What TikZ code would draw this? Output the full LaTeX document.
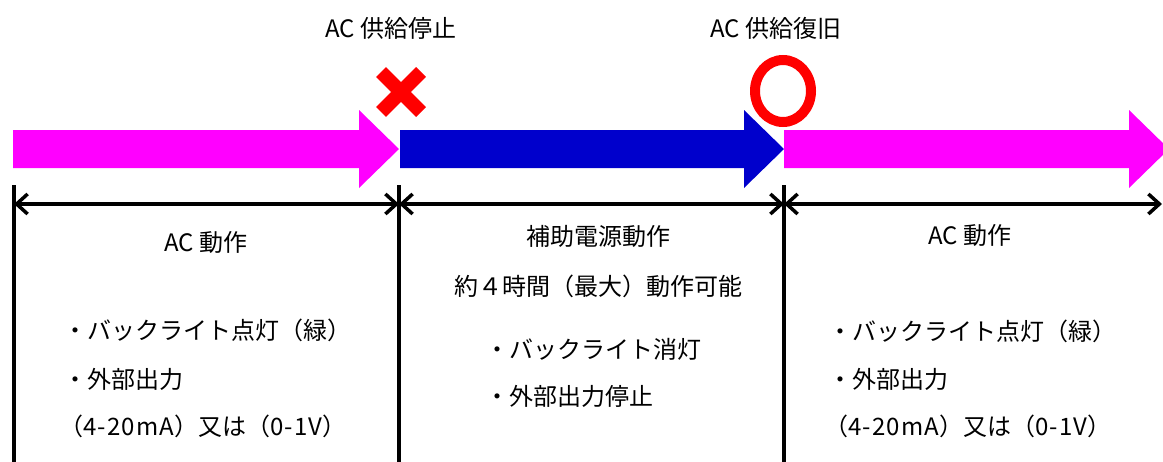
\documentclass[tikz,border=0pt]{standalone}
\usepackage{fontspec}
\setmainfont{Noto Sans CJK JP}
\newfontfamily\wideLatin[LetterSpace=5]{Noto Sans CJK JP}
\usetikzlibrary{arrows.meta}
\definecolor{acColor}{HTML}{FF00FF}
\definecolor{batColor}{HTML}{0000CC}
\definecolor{markColor}{HTML}{FF0000}

\begin{document}
\begin{tikzpicture}[x=1pt, y=-1pt,
    txt/.style={font=\fontsize{24}{24}\selectfont, inner sep=0pt, text height=20pt, text depth=3pt},
    item/.style={txt, anchor=west},
    dimline/.style={line width=3.5pt, {Straight Barb[length=11pt,width=20pt]}-{Straight Barb[length=11pt,width=20pt]}},
    tick/.style={line width=4pt}]
    \useasboundingbox (0,0) rectangle (1163,461);
    % big arrows
    \foreach \xa/\xb/\col in {13/399/acColor, 400/784/batColor, 784/1169/acColor}
        \fill[\col] (\xa,130) -- (\xb-40,130) -- (\xb-40,110) -- (\xb,149)
            -- (\xb-40,188) -- (\xb-40,168) -- (\xa,168) -- cycle;
    % marks
    \draw[markColor, line width=14pt] (381,72) -- (421,112) (381,112) -- (421,72);
    \draw[markColor, line width=10pt] (783,91) ellipse [x radius=28, y radius=31];
    % ticks and dimension lines
    \coordinate (t0) at (14,204);
    \coordinate (t1) at (399,204);
    \coordinate (t2) at (784,204);
    \coordinate (t3) at (1162,204);
    \foreach \p in {t0,t1,t2}
        \draw[tick] (\p) ++(0,-19) -- ++(0,280);
    \draw[dimline] (t0) -- (t1);
    \draw[dimline] (t1) -- (t2);
    \draw[dimline] (t2) -- (t3);
    % titles
    \node[txt] (stop) at (391,29) {AC 供給停止};
    \node[txt] (restore) at (776,29) {AC 供給復旧};
    % left
    \node[txt] (acLeft) at (206,243) {AC 動作};
    \node[item] (lightLeft) at (63,331) {・バックライト点灯（緑）};
    \node[item] (outLeft) at (63,380) {・外部出力};
    \node[item] (rangeLeft) at (59,427) {（{\wideLatin 4-20mA}）又は（{\wideLatin 0-1V}）};
    % middle
    \node[txt] (aux) at (598,237) {補助電源動作};
    \node[txt] (hours) at (598,287) {約４時間（最大）動作可能};
    \node[item] (lightOff) at (485,350) {・バックライト消灯};
    \node[item] (outStop) at (485,397) {・外部出力停止};
    % right
    \node[txt] (acRight) at (970,236) {AC 動作};
    \node[item] (lightRight) at (828,332) {・バックライト点灯（緑）};
    \node[item] (outRight) at (828,380) {・外部出力};
    \node[item] (rangeRight) at (824,427) {（{\wideLatin 4-20mA}）又は（{\wideLatin 0-1V}）};
\end{tikzpicture}
\end{document}
